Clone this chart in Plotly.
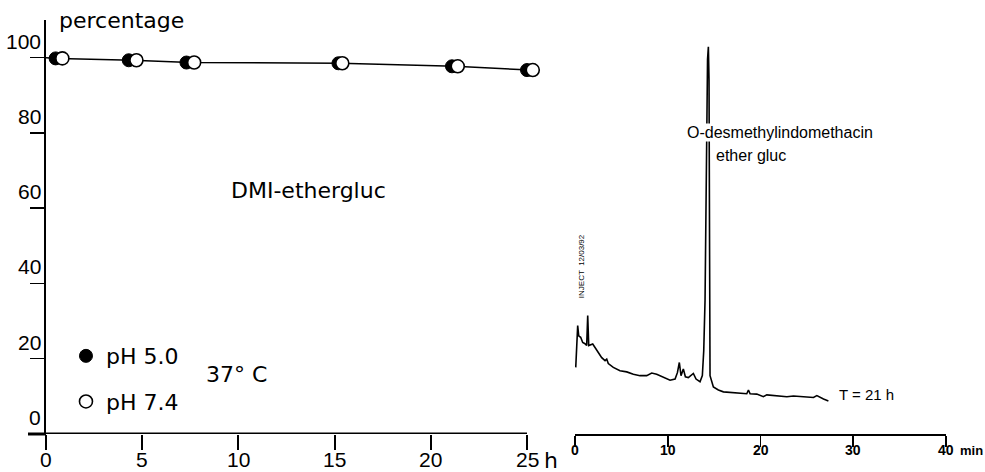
import plotly.graph_objects as go

# ---------------- data ----------------
# left panel: stability of DMI-ethergluc (percentage remaining vs time, h)
hours_ph50 = [0.5, 4.3, 7.3, 15.2, 21.1, 25.0]
pct_ph50 = [99.8, 99.3, 98.7, 98.5, 97.7, 96.7]
hours_ph74 = [0.85, 4.7, 7.7, 15.4, 21.4, 25.3]
pct_ph74 = [99.8, 99.3, 98.7, 98.5, 97.7, 96.7]
start_hour = 0.0
start_pct = 100.0

x_ticks_h = [0, 5, 10, 15, 20, 25]
y_ticks_pct = [0, 20, 40, 60, 80, 100]

# right panel: HPLC chromatogram at T = 21 h (retention time, min / detector signal, a.u.)
rt_min = [0.08, 0.18, 0.29, 0.40, 0.61, 0.83, 1.08, 1.26, 1.37, 1.48,
          1.69, 1.91, 2.16, 2.51, 2.88, 3.24, 3.42, 3.59, 4.13, 4.85,
          5.58, 6.29, 7.01, 7.73, 8.27, 8.81, 9.53, 10.25, 10.79, 11.04,
          11.25, 11.43, 11.68, 11.90, 12.22, 12.51, 12.76, 13.05, 13.48, 13.73,
          13.88, 14.02, 14.16, 14.29, 14.38, 14.45, 14.51, 14.56, 14.92, 15.46,
          16.00, 16.72, 17.80, 18.52, 18.70, 18.88, 19.60, 20.31, 20.68, 21.39,
          22.11, 22.84, 23.55, 24.27, 24.99, 25.71, 26.08, 26.43, 26.79, 27.32]
signal = [17.7, 24.0, 28.8, 26.1, 25.7, 24.3, 24.0, 23.5, 31.5, 23.5,
          23.7, 23.9, 23.0, 21.7, 20.3, 19.5, 19.9, 18.7, 17.7, 16.8,
          16.5, 15.9, 15.5, 15.5, 16.2, 15.9, 15.0, 14.3, 14.6, 16.3,
          19.0, 15.5, 17.3, 15.2, 15.0, 15.7, 16.1, 14.6, 13.9, 15.5,
          22.1, 35.5, 75.5, 99.5, 102.9, 94.1, 48.8, 15.5, 12.5, 11.7,
          11.2, 11.0, 10.7, 10.7, 11.7, 10.7, 10.6, 9.9, 10.4, 10.2,
          10.1, 9.9, 10.1, 9.9, 9.9, 9.7, 10.2, 9.7, 9.3, 8.8]
x2_ticks_min = [0, 10, 20, 30, 40]
peak_rt = 14.38

WORD_FONT = "DejaVu Sans, Verdana, sans-serif"
NUM_FONT = "Liberation Sans, Arial, Helvetica, sans-serif"

# connecting line through the mean of both series
line_h = [start_hour] + [(a + b) / 2 for a, b in zip(hours_ph50, hours_ph74)]
line_pct = [start_pct] + [(a + b) / 2 for a, b in zip(pct_ph50, pct_ph74)]

fig = go.Figure()

fig.add_trace(go.Scatter(x=line_h, y=line_pct, mode="lines",
                         line=dict(color="black", width=1.5),
                         showlegend=False, hoverinfo="skip", cliponaxis=False))
fig.add_trace(go.Scatter(x=hours_ph50, y=pct_ph50, mode="markers", name="pH 5.0",
                         legendgroup="a",
                         marker=dict(symbol="circle", size=13, color="black",
                                     line=dict(color="black", width=1)),
                         cliponaxis=False))
fig.add_trace(go.Scatter(x=hours_ph74, y=pct_ph74, mode="markers", name="pH 7.4",
                         legendgroup="b",
                         marker=dict(symbol="circle", size=13, color="white",
                                     line=dict(color="black", width=1.6)),
                         cliponaxis=False))

fig.add_trace(go.Scatter(x=rt_min, y=signal, mode="lines", xaxis="x2", yaxis="y2",
                         line=dict(color="black", width=1.6),
                         showlegend=False, cliponaxis=False))

W, H = 985, 472
ml, mr, mt, mb = 46, 39, 20, 38
pw = W - ml - mr
ph = H - mt - mb
px_per_h = (527 - ml) / 25.0
x_max = 25.7
left_end = (x_max * px_per_h) / pw
right_start = (575 - ml) / pw

fig.update_layout(
    width=W, height=H,
    margin=dict(l=ml, r=mr, t=mt, b=mb, autoexpand=False),
    paper_bgcolor="white", plot_bgcolor="white",
    font=dict(family=NUM_FONT, color="black"),
    showlegend=True,
    legend=dict(x=0.0222, y=0.239, xanchor="left", yanchor="top",
                font=dict(size=22, family=WORD_FONT), bgcolor="rgba(0,0,0,0)",
                tracegroupgap=14, traceorder="grouped"),
    xaxis=dict(domain=[0, left_end], range=[0, x_max], tickvals=x_ticks_h,
               showline=False, automargin=False, showticklabels=False,
               ticks="outside", ticklen=15, tickwidth=2, tickcolor="black",
               showgrid=False, zeroline=False, anchor="y"),
    yaxis=dict(domain=[0, 1], range=[0, 110], tickvals=y_ticks_pct, automargin=False,
               showline=True, linecolor="black", linewidth=2.5,
               ticks="outside", ticklen=14, tickwidth=1.5, tickcolor="black",
               showticklabels=False, showgrid=False, zeroline=False, anchor="x"),
    xaxis2=dict(domain=[right_start, 1], range=[0, 40], tickvals=x2_ticks_min,
                automargin=False, showticklabels=False,
                showline=True, linecolor="black", linewidth=1.6,
                ticks="outside", ticklen=11, tickwidth=1.6, tickcolor="black",
                showgrid=False, zeroline=False, anchor="y2"),
    yaxis2=dict(domain=[0, 1], range=[0, 110], visible=False, anchor="x2",
                automargin=False),
    shapes=[
        dict(type="line", xref="x", yref="y", x0=x_ticks_h[0], x1=x_ticks_h[-1],
             y0=0, y1=0, line=dict(color="black", width=3), layer="above"),
        dict(type="line", xref="paper", yref="paper", x0=-18 / pw, x1=0,
             y0=0, y1=0, line=dict(color="black", width=3), layer="above"),
    ],
)

ann = []
for v in y_ticks_pct:
    ann.append(dict(xref="x", yref="y", x=0, y=v, text=str(v), showarrow=False,
                    xanchor="right", yanchor="bottom", xshift=-3, yshift=3,
                    font=dict(size=21, family=NUM_FONT)))
for v in x_ticks_h:
    ann.append(dict(xref="x", yref="paper", x=v, y=0, text=str(v), showarrow=False,
                    xanchor="center", yanchor="middle", yshift=-25,
                    font=dict(size=21, family=NUM_FONT)))
for v in x2_ticks_min:
    ann.append(dict(xref="x2", yref="paper", x=v, y=0, text=str(v), showarrow=False,
                    xanchor="center", yanchor="middle", yshift=-16,
                    font=dict(size=14, family=NUM_FONT, weight="bold")))
ann += [
    dict(xref="x", yref="paper", x=0, y=1 + (mt - 20) / ph,
         text="percentage", showarrow=False,
         xanchor="left", yanchor="middle", xshift=11, font=dict(size=22, family=WORD_FONT)),
    dict(xref="x", yref="y", x=13.64, y=64.6, text="DMI-ethergluc", showarrow=False,
         xanchor="center", yanchor="middle", font=dict(size=22, family=WORD_FONT)),
    dict(xref="x", yref="y", x=8.2, y=15.7, text="37° C", showarrow=False,
         xanchor="left", yanchor="middle", font=dict(size=22, family=WORD_FONT)),
    dict(xref="x", yref="paper", x=25, y=0, text="h", showarrow=False,
         xanchor="center", yanchor="middle", xshift=24, yshift=-26,
         font=dict(size=22, family=WORD_FONT)),
    dict(xref="x2", yref="paper", x=40, y=0, text="min", showarrow=False,
         xanchor="left", yanchor="middle", xshift=12, yshift=-16,
         font=dict(size=13, family=NUM_FONT, weight="bold")),
    dict(xref="x2", yref="y2", x=peak_rt, y=80, text="O-desmethylindomethacin",
         showarrow=False, xanchor="left", yanchor="middle", xshift=-22,
         bgcolor="white", borderpad=0, font=dict(size=16, family=NUM_FONT)),
    dict(xref="x2", yref="y2", x=peak_rt, y=74, text="ether gluc",
         showarrow=False, xanchor="left", yanchor="middle", xshift=6,
         font=dict(size=16, family=NUM_FONT)),
    dict(xref="x2", yref="y2", x=28.25, y=10.4, text="T = 21 h",
         showarrow=False, xanchor="left", yanchor="middle",
         font=dict(size=15, family=NUM_FONT)),
    dict(xref="x2", yref="y2", x=0.65, y=44.6, text="INJECT  12/03/92",
         showarrow=False, textangle=-90, xanchor="center", yanchor="middle",
         font=dict(size=8, family=NUM_FONT)),
]
fig.update_layout(annotations=ann)

fig.write_html("out.html",
               config={"displayModeBar": False, "staticPlot": True},
               post_script="document.body.style.margin='0';document.body.style.overflow='hidden';")
